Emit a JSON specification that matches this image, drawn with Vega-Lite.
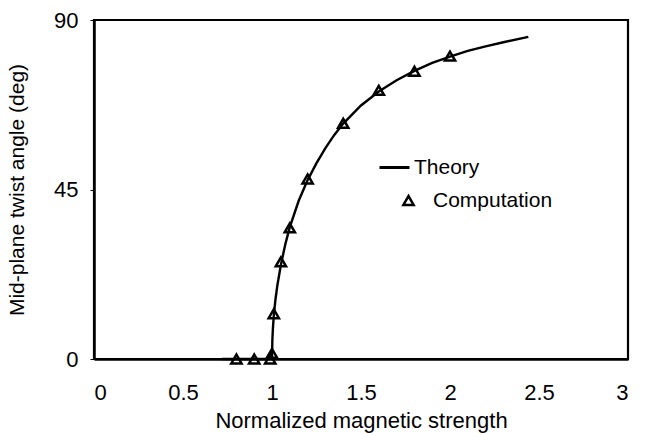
{
  "$schema": "https://vega.github.io/schema/vega-lite/v6.json",
  "width": 534,
  "height": 339,
  "autosize": {"type": "none"},
  "padding": {"left": 94, "top": 20, "right": 21, "bottom": 74},
  "background": "white",
  "config": {
    "font": "Liberation Sans",
    "view": {"stroke": "black", "strokeWidth": 2.2},
    "axis": {
      "grid": false,
      "domainColor": "black",
      "domainWidth": 2.5,
      "labelColor": "black",
      "labelFont": "Liberation Sans",
      "labelFontSize": 21,
      "titleFont": "Liberation Sans",
      "titleFontSize": 21,
      "titleFontWeight": "normal",
      "titleColor": "black",
      "tickColor": "black"
    },
    "legend": {
      "labelFont": "Liberation Sans",
      "labelFontSize": 21,
      "labelColor": "black",
      "padding": 0
    }
  },
  "datasets": {
    "theory": [
      {"x": 0.72, "y": 0, "curve": "Theory"},
      {"x": 1.0, "y": 0, "curve": "Theory"},
      {"x": 1.002, "y": 5, "curve": "Theory"},
      {"x": 1.005, "y": 8, "curve": "Theory"},
      {"x": 1.01, "y": 11.5, "curve": "Theory"},
      {"x": 1.02, "y": 16, "curve": "Theory"},
      {"x": 1.03, "y": 19.5, "curve": "Theory"},
      {"x": 1.05, "y": 25, "curve": "Theory"},
      {"x": 1.075, "y": 30.5, "curve": "Theory"},
      {"x": 1.1, "y": 35, "curve": "Theory"},
      {"x": 1.15, "y": 42, "curve": "Theory"},
      {"x": 1.2, "y": 47.5, "curve": "Theory"},
      {"x": 1.25, "y": 52, "curve": "Theory"},
      {"x": 1.3, "y": 56, "curve": "Theory"},
      {"x": 1.35, "y": 59.5, "curve": "Theory"},
      {"x": 1.4, "y": 62.5, "curve": "Theory"},
      {"x": 1.5, "y": 67.3, "curve": "Theory"},
      {"x": 1.6, "y": 71, "curve": "Theory"},
      {"x": 1.7, "y": 74, "curve": "Theory"},
      {"x": 1.8, "y": 76.5, "curve": "Theory"},
      {"x": 1.9, "y": 78.6, "curve": "Theory"},
      {"x": 2.0, "y": 80.3, "curve": "Theory"},
      {"x": 2.1, "y": 81.8, "curve": "Theory"},
      {"x": 2.2, "y": 83, "curve": "Theory"},
      {"x": 2.3, "y": 84.1, "curve": "Theory"},
      {"x": 2.44, "y": 85.5, "curve": "Theory"}
    ],
    "computation": [
      {"x": 0.8, "y": 0, "method": "Computation"},
      {"x": 0.9, "y": 0, "method": "Computation"},
      {"x": 0.99, "y": 0, "method": "Computation"},
      {"x": 1.0, "y": 1.5, "method": "Computation"},
      {"x": 1.01, "y": 12, "method": "Computation"},
      {"x": 1.05, "y": 25.8, "method": "Computation"},
      {"x": 1.1, "y": 34.8, "method": "Computation"},
      {"x": 1.2, "y": 47.8, "method": "Computation"},
      {"x": 1.4, "y": 62.6, "method": "Computation"},
      {"x": 1.6, "y": 71.3, "method": "Computation"},
      {"x": 1.8, "y": 76.4, "method": "Computation"},
      {"x": 2.0, "y": 80.4, "method": "Computation"}
    ]
  },
  "layer": [
    {
      "data": {"name": "theory"},
      "mark": {"type": "line", "strokeWidth": 2.4, "clip": false},
      "encoding": {
        "x": {
          "field": "x",
          "type": "quantitative",
          "scale": {"domain": [0, 3], "nice": false},
          "axis": {
            "values": [0, 0.5, 1, 1.5, 2, 2.5, 3],
            "format": "~g",
            "ticks": false,
            "labelPadding": 23,
            "labelFontSize": 22,
            "title": "Normalized magnetic strength",
            "titleFontSize": 22,
            "titlePadding": 7
          }
        },
        "y": {
          "field": "y",
          "type": "quantitative",
          "scale": {"domain": [0, 90], "nice": false},
          "axis": {
            "values": [0, 45, 90],
            "tickSize": 4,
            "labelPadding": 12,
            "labelFontSize": 22,
            "title": "Mid-plane twist angle (deg)",
            "titlePadding": 26
          }
        },
        "color": {
          "field": "curve",
          "type": "nominal",
          "scale": {"range": ["black"]},
          "legend": {
            "title": null,
            "orient": "none",
            "legendX": 284,
            "legendY": 131,
            "symbolType": "stroke",
            "symbolSize": 900,
            "symbolStrokeWidth": 3,
            "labelOffset": 3
          }
        }
      }
    },
    {
      "data": {"name": "computation"},
      "mark": {"type": "point", "filled": false, "color": "black", "strokeWidth": 2.5, "size": 105, "opacity": 1, "clip": false},
      "encoding": {
        "x": {"field": "x", "type": "quantitative"},
        "y": {"field": "y", "type": "quantitative"},
        "shape": {
          "field": "method",
          "type": "nominal",
          "scale": {"range": ["triangle-up"]},
          "legend": {
            "title": null,
            "orient": "none",
            "legendX": 304,
            "legendY": 170,
            "symbolSize": 105,
            "symbolStrokeWidth": 2.5,
            "symbolStrokeColor": "black",
            "symbolFillColor": "transparent",
            "labelOffset": 14
          }
        }
      }
    }
  ]
}
